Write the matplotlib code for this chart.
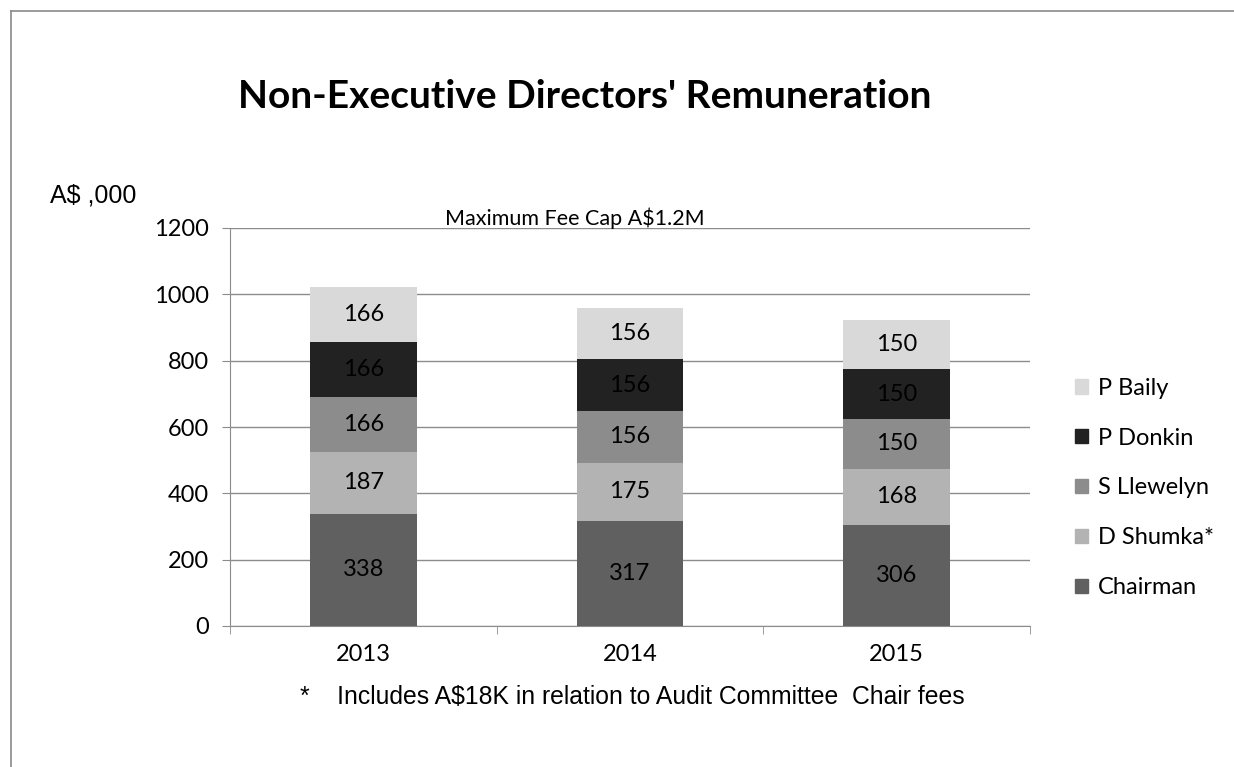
import matplotlib
matplotlib.use("Agg")
import matplotlib.pyplot as plt
from matplotlib.lines import Line2D
from matplotlib.patches import Patch
import numpy as np

years = ["2013", "2014", "2015"]
series_names = ["Chairman", "D Shumka*", "S Llewelyn", "P Donkin", "P Baily"]
chairman = [338, 317, 306]
d_shumka = [187, 175, 168]
s_llewelyn = [166, 156, 150]
p_donkin = [166, 156, 150]
p_baily = [166, 156, 150]
colors = ["#606060", "#b3b3b3", "#8c8c8c", "#222222", "#d9d9d9"]

W, H = 1234, 767
fig = plt.figure(figsize=(W / 100, H / 100), dpi=100)
fig.patch.set_facecolor("white")

# outer frame (only left/top visible)
fig.add_artist(Line2D([11 / W, 11 / W], [0, 1 - 11 / H], color="#8a8a8a", lw=1.2))
fig.add_artist(Line2D([11 / W, 1], [1 - 11 / H, 1 - 11 / H], color="#8a8a8a", lw=1.2))

ax = fig.add_axes([230 / W, 141 / H, 800 / W, 398 / H])
x = np.arange(len(years))
bottom = np.zeros(len(years))
values = [chairman, d_shumka, s_llewelyn, p_donkin, p_baily]
for name, vals, c in zip(series_names, values, colors):
    vals = np.array(vals)
    ax.bar(x, vals, width=0.4, bottom=bottom, color=c, label=name, zorder=3)
    for xi, b, v in zip(x, bottom, vals):
        ax.text(xi, b + v / 2, str(v), ha="center", va="center",
                fontsize=17, family="Lato", color="black", zorder=4)
    bottom = bottom + vals

ax.set_xlim(-0.5, 2.5)
ax.set_ylim(0, 1200)
ax.set_yticks(range(0, 1201, 200))
ax.yaxis.grid(True, color="#8c8c8c", lw=1.0, zorder=0)
ax.set_axisbelow(True)
for s in ["top", "right"]:
    ax.spines[s].set_visible(False)
for s in ["left", "bottom"]:
    ax.spines[s].set_color("#8c8c8c")
ax.set_xticks(x)
ax.set_xticklabels(years)
ax.set_xticks([-0.5, 0.5, 1.5, 2.5], minor=True)
ax.tick_params(axis="x", which="major", length=0, pad=13, labelsize=17)
ax.tick_params(axis="x", which="minor", length=6, color="#8c8c8c")
ax.tick_params(axis="y", length=6, color="#8c8c8c", pad=9, labelsize=17)
for lab in ax.get_xticklabels() + ax.get_yticklabels():
    lab.set_family("Lato")

fig.text(585 / W, 1 - 97 / H, "Non-Executive Directors' Remuneration",
         ha="center", va="center", fontsize=28, fontweight="bold", family="Lato")
fig.text(50 / W, 1 - 195 / H, "A$ ,000", ha="left", va="center",
         fontsize=18, family="Liberation Sans")
fig.text(575 / W, 1 - 218 / H, "Maximum Fee Cap A$1.2M", ha="center",
         va="center", fontsize=15.5, family="Lato")
fig.text(300 / W, 1 - 697 / H,
         "*    Includes A$18K in relation to Audit Committee  Chair fees",
         ha="left", va="center", fontsize=17.8, family="Liberation Sans")

handles = [Patch(color=c, label=n) for n, c in zip(series_names, colors)][::-1]
fig.legend(handles=handles, loc="center left", bbox_to_anchor=(1054 / W, 1 - 488 / H),
           frameon=False, prop={"family": "Lato", "size": 17},
           handlelength=0.55, handleheight=0.55, handletextpad=0.4, labelspacing=1.22)

fig.savefig("out.png", dpi=100)
